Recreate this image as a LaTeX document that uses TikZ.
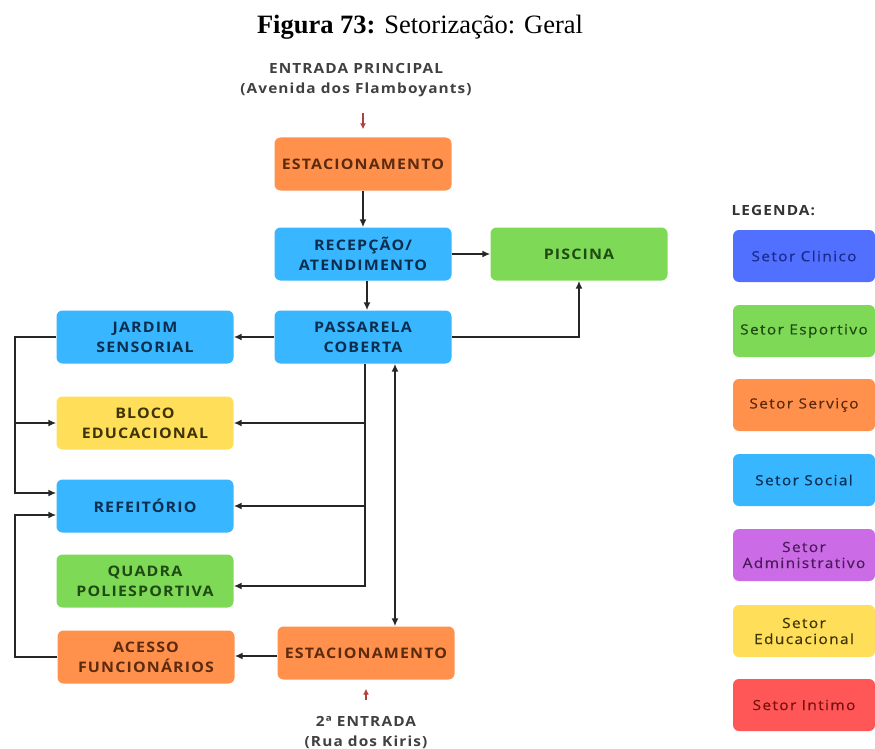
\documentclass[tikz,border=0pt]{standalone}
\usepackage{fontspec}
\setmainfont{Liberation Serif}
\newfontfamily\boxfont[LetterSpace=8, FakeStretch=1.1]{Open Sans}
\newfontfamily\legfont[LetterSpace=10, FakeStretch=1.1, FakeBold=0.5]{Open Sans}
\usetikzlibrary{arrows.meta}

% cores dos setores
\definecolor{clinico}{HTML}{5170FF}
\definecolor{esporte}{HTML}{7ED957}
\definecolor{servico}{HTML}{FF914D}
\definecolor{social}{HTML}{38B6FF}
\definecolor{admin}{HTML}{CB6CE6}
\definecolor{educa}{HTML}{FFDE59}
\definecolor{intimo}{HTML}{FF5757}
\definecolor{txtclinico}{HTML}{1C2A8C}
\definecolor{txtesporte}{HTML}{1F4A12}
\definecolor{txtservico}{HTML}{5C2A0E}
\definecolor{txtsocial}{HTML}{0B2E4F}
\definecolor{txtadmin}{HTML}{4A1A5A}
\definecolor{txteduca}{HTML}{3D3305}
\definecolor{txtintimo}{HTML}{7A1010}
\definecolor{entrada}{HTML}{B0403E}

\tikzset{
  setor/.style={rectangle, rounded corners=6pt, minimum width=177pt, minimum height=53pt,
    align=center, inner sep=2pt, font=\boxfont\bfseries\fontsize{14.5}{20}\selectfont},
  legenda/.style={rectangle, rounded corners=6pt, minimum width=142pt, minimum height=52pt,
    align=center, inner sep=2pt, font=\legfont\fontsize{14}{16}\selectfont},
  fluxo/.style={-{Latex[length=8pt,width=7pt]}, line width=1.8pt, black!85},
  acessos/.style={align=center, text=black!75, font=\boxfont\bfseries\fontsize{14}{20}\selectfont},
  seta entrada/.style={-{Latex[length=6pt,width=6pt]}, line width=1.4pt, entrada}
}

\begin{document}
\begin{tikzpicture}[x=1pt, y=-1pt]
    \useasboundingbox (0,0) rectangle (875,749);

    % ==== TITULO ====
    \node[font=\fontsize{26.5}{30}\selectfont] (titulo) at (420,27) {\textbf{Figura 73:} Setorização: Geral};

    % ==== ENTRADAS ====
    \node[acessos] (entrada1) at (356,80) {ENTRADA PRINCIPAL\\(Avenida dos Flamboyants)};
    \node[acessos] (entrada2) at (366,733) {2ª ENTRADA\\(Rua dos Kiris)};

    % ==== SETORES ====
    \node[setor, fill=servico, text=txtservico] (est1) at (363,164) {ESTACIONAMENTO};
    \node[setor, fill=social, text=txtsocial] (recep) at (363,254) {RECEPÇÃO/\\ATENDIMENTO};
    \node[setor, fill=esporte, text=txtesporte] (piscina) at (579,254) {PISCINA};
    \node[setor, fill=social, text=txtsocial] (passarela) at (363,337) {PASSARELA\\COBERTA};
    \node[setor, fill=social, text=txtsocial] (jardim) at (145,337) {JARDIM\\SENSORIAL};
    \node[setor, fill=educa, text=txteduca] (bloco) at (145,423) {BLOCO\\EDUCACIONAL};
    \node[setor, fill=social, text=txtsocial] (refeit) at (145,506) {REFEITÓRIO};
    \node[setor, fill=esporte, text=txtesporte] (quadra) at (145,581) {QUADRA\\POLIESPORTIVA};
    \node[setor, fill=servico, text=txtservico] (acesso) at (146,657) {ACESSO\\FUNCIONÁRIOS};
    \node[setor, fill=servico, text=txtservico] (est2) at (366,653) {ESTACIONAMENTO};

    % ==== FLUXOS ====
    \draw[seta entrada] ([yshift=-13pt]entrada1.south -| est1.north) -- ([yshift=8pt]est1.north);
    \draw[seta entrada] ([yshift=13pt]entrada2.north) -- ([yshift=-9pt]est2.south);
    \draw[fluxo] (est1) -- (recep);
    \draw[fluxo] (recep) -- (piscina);
    \draw[fluxo] ([xshift=4pt]recep.south) -- ([xshift=4pt]passarela.north);
    \draw[fluxo] (passarela) -- (jardim);
    \draw[fluxo] (passarela.east) -| (piscina.south);
    \draw[fluxo] ([xshift=2pt]passarela.south) |- ([yshift=-5pt]quadra.east);
    \draw[fluxo] ([xshift=2pt]passarela.south |- bloco.east) -- (bloco.east);
    \draw[fluxo] ([xshift=2pt]passarela.south |- refeit.east) -- (refeit.east);
    \draw[fluxo, {Latex[length=8pt,width=7pt]}-{Latex[length=8pt,width=7pt]}] ([xshift=32pt]passarela.south) -- ([xshift=29pt]est2.north);
    \draw[fluxo] ([yshift=-3pt]est2.west) -- ([yshift=-3pt]est2.west -| acesso.east);
    \draw[fluxo] (jardim.west) -- ++(-41,0) |- ([yshift=13pt]refeit.west);
    \draw[fluxo] ([xshift=-41pt]jardim.west |- bloco.west) -- (bloco.west);
    \draw[fluxo] (acesso.west) -- ++(-42,0) |- ([yshift=-9pt]refeit.west);

    % ==== LEGENDA ====
    \node[anchor=west, font=\boxfont\bfseries\fontsize{14}{16}\selectfont, text=black!80] (legtitulo) at (728,211) {LEGENDA:};
    \foreach \nome/\cor/\txt/\y/\rotulo in {
        leg1/clinico/txtclinico/256/{Setor Clinico},
        leg2/esporte/txtesporte/331/{Setor Esportivo},
        leg3/servico/txtservico/405/{Setor Serviço},
        leg4/social/txtsocial/480/{Setor Social},
        leg5/admin/txtadmin/555/{Setor\\Administrativo},
        leg6/educa/txteduca/631/{Setor\\Educacional},
        leg7/intimo/txtintimo/705/{Setor Intimo}}
        \node[legenda, fill=\cor, text=\txt] (\nome) at (804,\y) {\rotulo};
\end{tikzpicture}
\end{document}
